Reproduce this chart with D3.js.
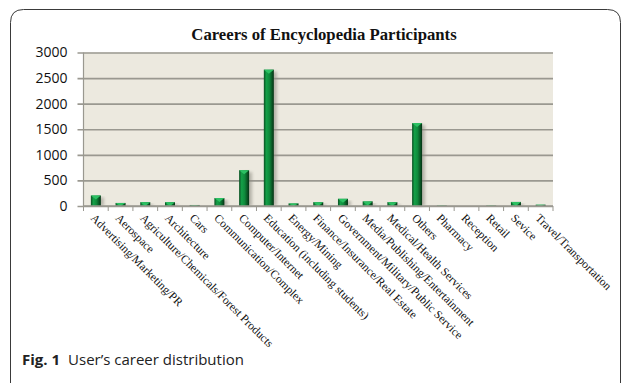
<!DOCTYPE html>
<html>
<head>
<meta charset="utf-8">
<script src="https://cdn.jsdelivr.net/npm/d3@7"></script>
<style>
  html, body { margin: 0; padding: 0; background: #fff; }
  svg { display: block; }
</style>
</head>
<body>
<svg id="chart" width="629" height="383"></svg>
<script>
// Careers of encyclopedia participants (number of users per career)
const careers = [
  "Advertising/Marketing/PR",
  "Aerospace",
  "Agriculture/Chemicals/Forest Products",
  "Architecture",
  "Cars",
  "Communication/Complex",
  "Computer/Internet",
  "Education (including students)",
  "Energy/Mining",
  "Finance/Insurance/Real Estate",
  "Government/Military/Public Service",
  "Media/Publishing/Entertainment",
  "Medical/Health Services",
  "Others",
  "Pharmacy",
  "Reception",
  "Retail",
  "Sevice",
  "Travel/Transportation"
];
const participants = [205, 60, 75, 75, 20, 155, 700, 2665, 50, 75, 140, 90, 75, 1620, 8, 0, 8, 80, 25];
const yTicks = [0, 500, 1000, 1500, 2000, 2500, 3000];

const svg = d3.select("#chart");
const plot = { left: 83.5, right: 553, top: 52.5, bottom: 206 };

// outer figure frame with rounded corners
const fr = { l: 10.5, t: 9.5, r: 620.5, b: 400, rad: 13 };
svg.append("path")
  .attr("d", `M${fr.l},${fr.b} L${fr.l},${fr.t + fr.rad} Q${fr.l},${fr.t} ${fr.l + fr.rad},${fr.t}
              L${fr.r - fr.rad},${fr.t} Q${fr.r},${fr.t} ${fr.r},${fr.t + fr.rad} L${fr.r},${fr.b}`)
  .attr("fill", "none").attr("stroke", "#3a3a3a").attr("stroke-width", 1);

const x = d3.scaleBand().domain(careers).range([plot.left, plot.right]).padding(0);
const y = d3.scaleLinear().domain([0, 3000]).range([plot.bottom, plot.top]);

// plot background
svg.append("rect")
  .attr("x", plot.left).attr("y", plot.top)
  .attr("width", plot.right - plot.left).attr("height", plot.bottom - plot.top)
  .attr("fill", "#ece9df");

// horizontal gridlines + y axis
const yAxis = d3.axisLeft(y).tickValues(yTicks).tickFormat(d3.format("d"))
  .tickSize(plot.right - plot.left + 6).tickPadding(10);
const gy = svg.append("g").attr("transform", `translate(${plot.right},0)`).call(yAxis);
gy.select(".domain").remove();
gy.selectAll(".tick line").attr("stroke", "#9a9890").attr("stroke-width", 1.6);
gy.selectAll(".tick text")
  .attr("font-family", "'Open Sans', sans-serif").attr("font-size", 14).attr("fill", "#111");

// left axis line
svg.append("line")
  .attr("x1", plot.left).attr("x2", plot.left)
  .attr("y1", plot.top).attr("y2", plot.bottom)
  .attr("stroke", "#9a9890").attr("stroke-width", 1.2);

// gradients for the bevelled bars
const defs = svg.append("defs");
const grad = defs.append("linearGradient").attr("id", "barGrad").attr("x1", 0).attr("x2", 1).attr("y1", 0).attr("y2", 0);
grad.append("stop").attr("offset", "0%").attr("stop-color", "#0a4f22");
grad.append("stop").attr("offset", "25%").attr("stop-color", "#14a048");
grad.append("stop").attr("offset", "55%").attr("stop-color", "#0f8a3c");
grad.append("stop").attr("offset", "100%").attr("stop-color", "#053214");
defs.append("filter").attr("id", "shadow").attr("x", "-50%").attr("width", "200%")
  .append("feGaussianBlur").attr("stdDeviation", 1.6);

const barW = 10;
const bars = svg.append("g");
const cx = d => x(d) + x.bandwidth() / 2;
const val = (d, i) => participants[i];

// soft shadow to the right of each bar
bars.selectAll("rect.shadow").data(careers).join("rect")
  .attr("class", "shadow")
  .attr("x", d => cx(d) - barW / 2 + 3)
  .attr("y", (d, i) => y(val(d, i)) + 2)
  .attr("width", barW)
  .attr("height", (d, i) => Math.max(0, y(0) - y(val(d, i)) - 2))
  .attr("fill", "#8c8a80").attr("opacity", 0.55)
  .attr("filter", "url(#shadow)");

bars.selectAll("rect.bar").data(careers).join("rect")
  .attr("class", "bar")
  .attr("x", d => cx(d) - barW / 2)
  .attr("y", (d, i) => y(val(d, i)))
  .attr("width", barW)
  .attr("height", (d, i) => y(0) - y(val(d, i)))
  .attr("fill", "url(#barGrad)");

// bevelled top of each bar
bars.selectAll("path.cap").data(careers).join("path")
  .attr("class", "cap")
  .attr("d", (d, i) => {
    const top = y(val(d, i)), h = Math.min(4, y(0) - top);
    const l = cx(d) - barW / 2, r = cx(d) + barW / 2;
    return `M${l},${top} L${r},${top} L${cx(d)},${top + h} Z`;
  })
  .attr("fill", "#2cc063").attr("opacity", (d, i) => val(d, i) > 0 ? 1 : 0);

// bottom axis with category boundary ticks
svg.append("line")
  .attr("x1", plot.left).attr("x2", plot.right)
  .attr("y1", plot.bottom).attr("y2", plot.bottom)
  .attr("stroke", "#9a9890").attr("stroke-width", 1.6);
svg.append("g").selectAll("line").data(d3.range(careers.length + 1)).join("line")
  .attr("x1", i => plot.left + i * x.bandwidth()).attr("x2", i => plot.left + i * x.bandwidth())
  .attr("y1", plot.bottom).attr("y2", plot.bottom + 5)
  .attr("stroke", "#9a9890").attr("stroke-width", 1);

// rotated category labels
svg.append("g").selectAll("text").data(careers).join("text")
  .attr("transform", d => `translate(${cx(d)},${plot.bottom + 7}) rotate(45)`)
  .attr("dy", "0.7em")
  .attr("font-family", "'Liberation Serif', 'Times New Roman', serif")
  .attr("font-size", 11.7)
  .attr("fill", "#111")
  .text(d => d);

// chart title
svg.append("text")
  .attr("x", 324).attr("y", 40)
  .attr("text-anchor", "middle")
  .attr("font-family", "'Liberation Serif', 'Times New Roman', serif")
  .attr("font-weight", "bold").attr("font-size", 16.7)
  .attr("fill", "#111")
  .text("Careers of Encyclopedia Participants");

// figure caption
const cap = svg.append("text")
  .attr("x", 22).attr("y", 365)
  .attr("font-family", "'Open Sans', sans-serif").attr("font-size", 15).attr("fill", "#222");
cap.append("tspan").attr("font-weight", "bold").text("Fig. 1");
cap.append("tspan").attr("dx", 8).attr("font-weight", "normal").text("User’s career distribution");
</script>
</body>
</html>
